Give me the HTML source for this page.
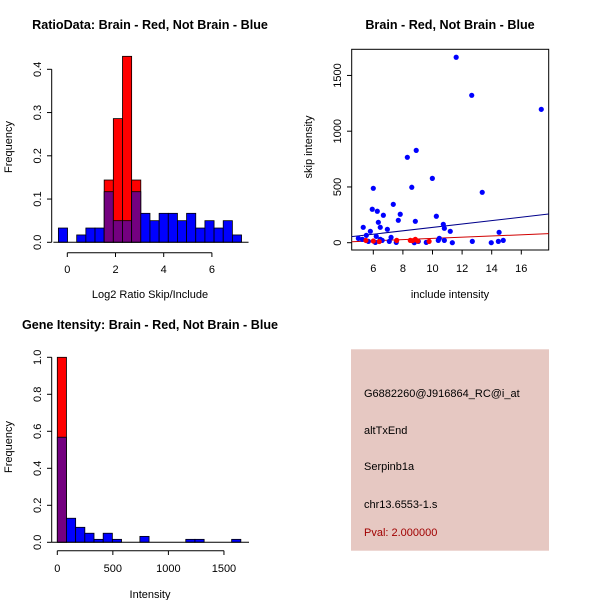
<!DOCTYPE html>
<html><head><meta charset="utf-8"><style>
body{margin:0;background:#fff;}
svg{display:block;font-family:"Liberation Sans",sans-serif;}
</style></head><body>
<svg id="c" width="600" height="600" xmlns="http://www.w3.org/2000/svg">
<rect width="600" height="600" fill="#fff"/>
</svg>
<script>
// ---- Panel 1: ratio histogram ----
const ratioBinStart = -0.37;
const ratioBinWidth = 0.38;
const ratioBlue = [0.033,0,0.017,0.033,0.033,0.117,0.05,0.05,0.117,0.067,0.05,0.067,0.067,0.05,0.067,0.033,0.05,0.033,0.05,0.017];
const ratioRed = [0,0,0,0,0,0.144,0.286,0.43,0.144,0,0,0,0,0,0,0,0,0,0,0];
const ratioXTicks = [0,2,4,6];
const ratioYTicks = [0,0.1,0.2,0.3,0.4];
// ---- Panel 2: scatter ----
const blueX = [11.6,12.65,17.35,8.9,8.3,9.99,6.0,8.6,13.36,7.35,5.93,6.27,7.82,6.68,10.26,7.69,8.84,6.34,10.73,10.8,6.47,5.32,6.95,11.2,14.5,5.8,5.53,6.2,7.2,10.46,4.99,5.26,6.47,6.6,7.08,7.55,6.14,5.67,8.77,9.04,9.58,10.39,10.8,11.34,12.69,13.97,14.45,14.78];
const blueY = [1663,1322,1196,828,766,577,488,497,452,344,300,282,255,246,237,201,192,183,165,129,138,138,120,102,93,102,66,57,48,39,39,30,30,21,12,3,3,12,0,12,3,21,21,0,12,0,12,21];
const redX = [7.58,8.5,8.84,9.77,9.0,8.65,5.5,6.0,6.4];
const redY = [21,21,30,12,15,18,20,15,10];
const blueFit = [54,257];
const redFit = [9,81];
const scatXTicks = [6,8,10,12,14,16];
const scatYTicks = [0,500,1000,1500];
// ---- Panel 3: intensity histogram ----
const intBinWidth = 82.6;
const intBlue = [0.568,0.13,0.081,0.049,0.016,0.049,0.016,0,0,0.032,0,0,0,0,0.016,0.016,0,0,0,0.016];
const intRed = [1.0,0,0,0,0,0,0,0,0,0,0,0,0,0,0,0,0,0,0,0];
const intXTicks = [0,500,1000,1500];
const intYTicks = [0,0.2,0.4,0.6,0.8,1.0];

const svg = document.getElementById('c');
const NS = 'http://www.w3.org/2000/svg';
function mk(tag, attrs, parent){
  const e = document.createElementNS(NS, tag);
  for (const k in attrs) e.setAttribute(k, attrs[k]);
  (parent||svg).appendChild(e);
  return e;
}
function txt(x,y,s,size,opts){
  const t = mk('text',{x:x,y:y,'font-size':size,'text-anchor':(opts&&opts.anchor)||'middle',fill:(opts&&opts.fill)||'#000'});
  if (opts&&opts.bold) t.setAttribute('font-weight','bold');
  if (opts&&opts.rot) t.setAttribute('transform','rotate(-90 '+x+' '+y+')');
  t.textContent = s;
  return t;
}
const PURPLE = '#740080';

// Panel 1
{
  const sx = v => 67.3 + v*24.1;
  const sy = v => 242.3 - v*432.5;
  const g = mk('g',{});
  
  
  txt(150,29,'RatioData: Brain - Red, Not Brain - Blue',12.6,{bold:true});
  ratioBlue.forEach((b,i)=>{
    const x0 = sx(ratioBinStart+i*ratioBinWidth), x1 = sx(ratioBinStart+(i+1)*ratioBinWidth);
    const r = ratioRed[i];
    if (r>0){
      const e = mk('rect',{x:x0,y:sy(r),width:x1-x0,height:sy(0)-sy(r),fill:'#f00',stroke:'#000','stroke-width':0.8},g);
      
      
    }
    if (b>0){
      const e = mk('rect',{x:x0,y:sy(b),width:x1-x0,height:sy(0)-sy(b),fill:r>0?PURPLE:'#00f',stroke:'#000','stroke-width':0.8},g);
      
      
    }
  });
  mk('line',{x1:sx(ratioBinStart)-5,x2:sx(ratioBinStart+20*ratioBinWidth)+7,y1:sy(0),y2:sy(0),stroke:'#000'},g);
  mk('line',{x1:sx(0),x2:sx(6),y1:252.7,y2:252.7,stroke:'#000'},g);
  ratioXTicks.forEach(v=>{mk('line',{x1:sx(v),x2:sx(v),y1:252.7,y2:257,stroke:'#000'},g);txt(sx(v),273,String(v),11);});
  mk('line',{x1:51.7,x2:51.7,y1:sy(0),y2:sy(0.4),stroke:'#000'},g);
  ratioYTicks.forEach(v=>{mk('line',{x1:47,x2:51.7,y1:sy(v),y2:sy(v),stroke:'#000'},g);txt(41,sy(v),v===0?'0.0':String(v),11,{rot:true});});
  txt(150,298,'Log2 Ratio Skip/Include',11);
  txt(12,147,'Frequency',11,{rot:true});
}
// Panel 2
{
  const sx = v => 373.3 + (v-6)*14.8;
  const sy = v => 242.7 - v*0.1115;
  const g = mk('g',{});
  
  
  txt(450,29,'Brain - Red, Not Brain - Blue',12.6,{bold:true});
  mk('rect',{x:351.7,y:49.3,width:197,height:200.7,fill:'none',stroke:'#000'},g);
  const xl = 4.54, xr = 17.85;
  const bl = mk('line',{x1:sx(xl),x2:sx(xr),y1:sy(blueFit[0]),y2:sy(blueFit[1]),stroke:'#00008b'},g);
  
  
  const rl = mk('line',{x1:sx(xl),x2:sx(xr),y1:sy(redFit[0]),y2:sy(redFit[1]),stroke:'#d00000'},g);
  
  
  blueX.forEach((x,i)=>{
    const c = mk('circle',{cx:sx(x),cy:sy(blueY[i]),r:2.6,fill:'#00f'},g);
    
    
  });
  redX.forEach((x,i)=>{
    const c = mk('circle',{cx:sx(x),cy:sy(redY[i]),r:2.6,fill:'#f00'},g);
    
    
  });
  scatXTicks.forEach(v=>{mk('line',{x1:sx(v),x2:sx(v),y1:250,y2:254.5,stroke:'#000'},g);txt(sx(v),272,String(v),11);});
  scatYTicks.forEach(v=>{mk('line',{x1:347,x2:351.7,y1:sy(v),y2:sy(v),stroke:'#000'},g);txt(341,sy(v),String(v),11,{rot:true});});
  txt(450,298,'include intensity',11);
  txt(312,147,'skip intensity',11,{rot:true});
}
// Panel 3
{
  const sx = v => 57.3 + v*0.1111;
  const sy = v => 542.3 - v*185;
  const g = mk('g',{});
  
  
  txt(150,329,'Gene Itensity: Brain - Red, Not Brain - Blue',12.6,{bold:true});
  intBlue.forEach((b,i)=>{
    const x0 = sx(i*intBinWidth), x1 = sx((i+1)*intBinWidth);
    const r = intRed[i];
    if (r>0){
      const e = mk('rect',{x:x0,y:sy(r),width:x1-x0,height:sy(0)-sy(r),fill:'#f00',stroke:'#000','stroke-width':0.8},g);
      
      
    }
    if (b>0){
      const e = mk('rect',{x:x0,y:sy(b),width:x1-x0,height:sy(0)-sy(b),fill:r>0?PURPLE:'#00f',stroke:'#000','stroke-width':0.8},g);
      
      
    }
  });
  mk('line',{x1:51.7,x2:249,y1:sy(0),y2:sy(0),stroke:'#000'},g);
  mk('line',{x1:sx(0),x2:sx(1500),y1:550.7,y2:550.7,stroke:'#000'},g);
  intXTicks.forEach(v=>{mk('line',{x1:sx(v),x2:sx(v),y1:550.7,y2:555,stroke:'#000'},g);txt(sx(v),572,String(v),11);});
  mk('line',{x1:51.7,x2:51.7,y1:sy(0),y2:sy(1),stroke:'#000'},g);
  intYTicks.forEach(v=>{mk('line',{x1:47,x2:51.7,y1:sy(v),y2:sy(v),stroke:'#000'},g);txt(41,sy(v),v.toFixed(1),11,{rot:true});});
  txt(150,598,'Intensity',11);
  txt(12,447,'Frequency',11,{rot:true});
}
// Panel 4: info box
{
  const g = mk('g',{});
  
  
  mk('rect',{x:351,y:349.3,width:198,height:201.4,fill:'#e6c8c2'},g);
  const lines = [['G6882260@J916864_RC@i_at',397],['altTxEnd',434],['Serpinb1a',470],['chr13.6553-1.s',508]];
  lines.forEach(l=>{const t=txt(364,l[1],l[0],11,{anchor:'start'});g.appendChild(t);});
  const p = txt(364,536,'Pval: 2.000000',11,{anchor:'start',fill:'#a00000'});
  g.appendChild(p);
}
</script>
</body></html>
